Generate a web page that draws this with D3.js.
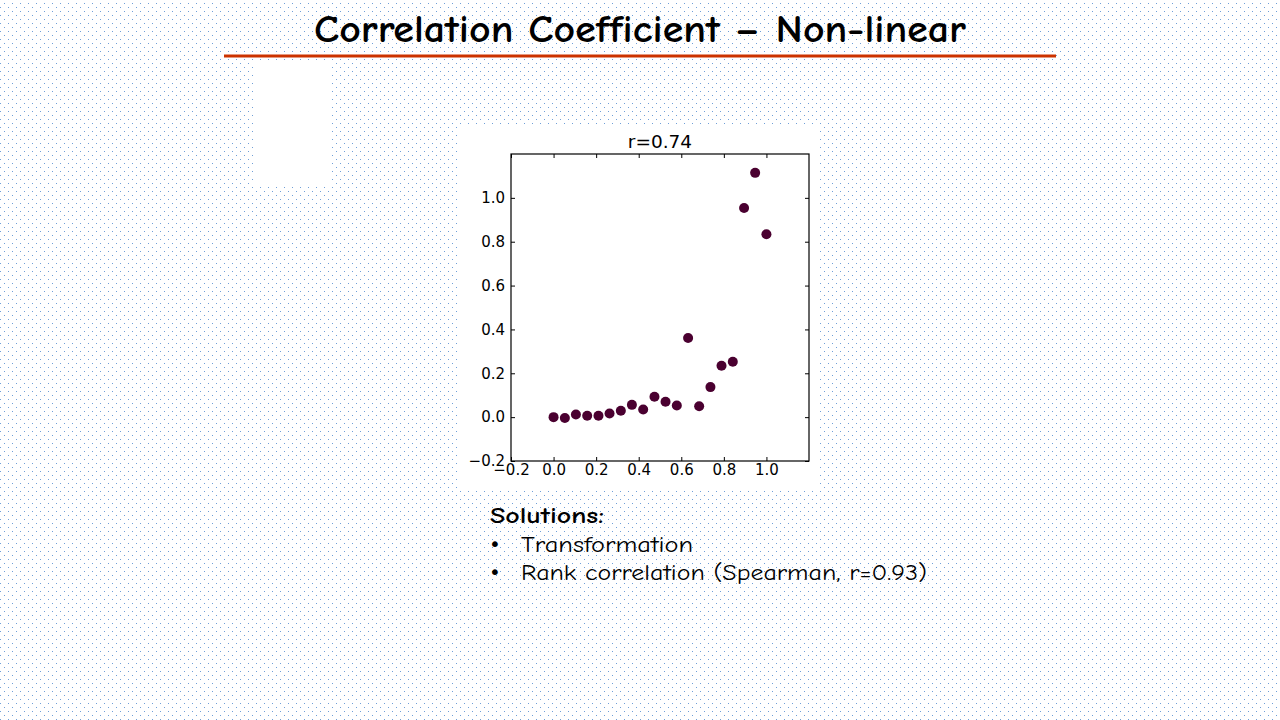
<!DOCTYPE html>
<html>
<head>
<meta charset="utf-8">
<script src="https://cdn.jsdelivr.net/npm/d3@7"></script>
<style>
  body { margin: 0; background: #fff; }
  svg { display: block; }
</style>
</head>
<body>
<svg id="slide" width="1280" height="720"></svg>
<script>
// data
var xValues = [0.000, 0.053, 0.105, 0.158, 0.211, 0.263, 0.316, 0.368, 0.421, 0.474,
               0.526, 0.579, 0.632, 0.684, 0.737, 0.789, 0.842, 0.895, 0.947, 1.000];
var yValues = [0.000, -0.004, 0.012, 0.006, 0.006, 0.017, 0.029, 0.056, 0.035, 0.093,
               0.070, 0.053, 0.361, 0.050, 0.137, 0.234, 0.253, 0.954, 1.114, 0.834];
var xTicks = [-0.2, 0.0, 0.2, 0.4, 0.6, 0.8, 1.0];
var yTicks = [-0.2, 0.0, 0.2, 0.4, 0.6, 0.8, 1.0];
var plotTitle = "r=0.74";
var slideTitle = "Correlation Coefficient \u2013 Non-linear";
var bullets = ["Transformation", "Rank correlation (Spearman, r=0.93)"];

var svg = d3.select("#slide");
var comic = "'Comic Sans MS', 'Comic Neue', 'DejaVu Sans', sans-serif";

// dotted slide background
var pat = svg.append("defs").append("pattern")
  .attr("id", "dots").attr("width", 8).attr("height", 8)
  .attr("patternUnits", "userSpaceOnUse");
pat.append("rect").attr("x", 0).attr("y", 7).attr("width", 1).attr("height", 1).attr("fill", "#6f9fd8");
pat.append("rect").attr("x", 4).attr("y", 3).attr("width", 1).attr("height", 1).attr("fill", "#6f9fd8");
svg.append("rect").attr("width", 1280).attr("height", 720).attr("fill", "url(#dots)");

// title + red rule
svg.append("text")
  .attr("x", 640).attr("y", 42)
  .attr("text-anchor", "middle")
  .attr("font-family", comic).attr("font-weight", "bold").attr("font-size", 38)
  .attr("textLength", 652).attr("lengthAdjust", "spacingAndGlyphs")
  .text(slideTitle);
svg.append("line")
  .attr("x1", 224).attr("x2", 1056).attr("y1", 56).attr("y2", 56)
  .attr("stroke", "#cc3300").attr("stroke-width", 3);

// empty white box left of the chart
svg.append("rect").attr("x", 253).attr("y", 62).attr("width", 78).attr("height", 123).attr("fill", "#fff");

// white image background of the plot
svg.append("rect").attr("x", 458).attr("y", 125).attr("width", 360).attr("height", 365).attr("fill", "#fff");

var pLeft = 511, pRight = 809, pTop = 154, pBottom = 461;
var x = d3.scaleLinear().domain([-0.2, 1.2]).range([pLeft, pRight]);
var y = d3.scaleLinear().domain([-0.2, 1.2]).range([pBottom, pTop]);

var tickFont = "'DejaVu Sans', sans-serif";
function fmt(d) { return d3.format(".1f")(d).replace("-", "\u2212"); }

// axes, ticks point inward like matplotlib
var gx = svg.append("g").attr("transform", "translate(0," + pBottom + ")")
  .call(d3.axisBottom(x).tickValues(xTicks).tickSizeInner(-4).tickSizeOuter(0).tickPadding(3).tickFormat(fmt));
var gy = svg.append("g").attr("transform", "translate(" + pLeft + ",0)")
  .call(d3.axisLeft(y).tickValues(yTicks).tickSizeInner(-4).tickSizeOuter(0).tickPadding(6).tickFormat(fmt));
var gt = svg.append("g").attr("transform", "translate(0," + pTop + ")")
  .call(d3.axisTop(x).tickValues(xTicks).tickSizeInner(-4).tickSizeOuter(0).tickFormat(""));
var gr = svg.append("g").attr("transform", "translate(" + pRight + ",0)")
  .call(d3.axisRight(y).tickValues(yTicks).tickSizeInner(-4).tickSizeOuter(0).tickFormat(""));

[gx, gy, gt, gr].forEach(function (g) {
  g.select(".domain").remove();
  g.selectAll(".tick line").attr("stroke", "#000").attr("stroke-width", 1);
  g.selectAll(".tick text").attr("font-family", tickFont).attr("font-size", 15).attr("fill", "#000");
});

// frame
svg.append("rect")
  .attr("x", pLeft).attr("y", pTop).attr("width", pRight - pLeft).attr("height", pBottom - pTop)
  .attr("fill", "none").attr("stroke", "#000").attr("stroke-width", 1.2);

// points
svg.append("g").selectAll("circle")
  .data(xValues)
  .join("circle")
  .attr("cx", function (d) { return x(d); })
  .attr("cy", function (d, i) { return y(yValues[i]); })
  .attr("r", 5)
  .attr("fill", "#4a0030");

svg.append("text")
  .attr("x", (pLeft + pRight) / 2).attr("y", 148)
  .attr("text-anchor", "middle")
  .attr("font-family", tickFont).attr("font-size", 18.5)
  .text(plotTitle);

// solutions block
svg.append("text")
  .attr("x", 490).attr("y", 523)
  .attr("font-family", comic).attr("font-weight", "bold").attr("font-size", 23)
  .attr("textLength", 114).attr("lengthAdjust", "spacingAndGlyphs")
  .text("Solutions:");
var widths = [172, 406];
bullets.forEach(function (b, i) {
  var yy = 552 + i * 28;
  svg.append("text").attr("x", 489).attr("y", yy - 1)
    .attr("font-family", "'DejaVu Sans', sans-serif").attr("font-size", 20).text("\u2022");
  svg.append("text").attr("x", 521).attr("y", yy)
    .attr("font-family", comic).attr("font-size", 23)
    .attr("textLength", widths[i]).attr("lengthAdjust", "spacingAndGlyphs")
    .text(b);
});
</script>
</body>
</html>
